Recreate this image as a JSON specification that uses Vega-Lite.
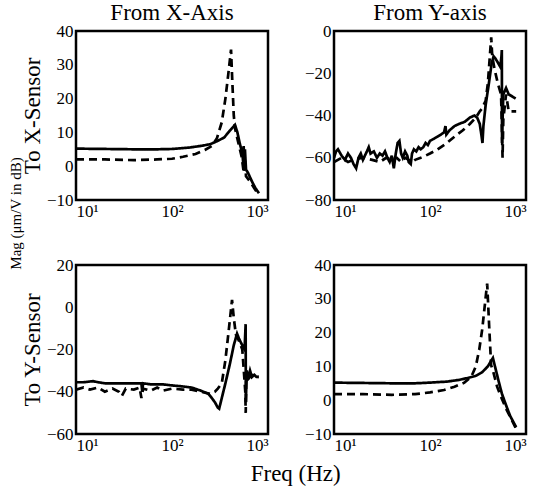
{
  "$schema": "https://vega.github.io/schema/vega-lite/v6.json",
  "padding": {"left": 9, "top": 0, "right": 5, "bottom": 0},
  "background": "white",
  "title": {"text": "Mag (μm/V in dB)", "orient": "left", "fontSize": 15, "font": "Liberation Serif", "fontWeight": "normal", "color": "black", "anchor": "middle", "offset": -4, "dx": 30},
  "datasets": {
    "p1": [
      {"f":10,"v":5.2,"s":"solid"},{"f":20,"v":5.1,"s":"solid"},{"f":40,"v":5,"s":"solid"},{"f":70,"v":5,"s":"solid"},{"f":100,"v":5.1,"s":"solid"},{"f":150,"v":5.5,"s":"solid"},{"f":200,"v":6,"s":"solid"},{"f":250,"v":6.5,"s":"solid"},{"f":300,"v":7.5,"s":"solid"},{"f":350,"v":8.5,"s":"solid"},{"f":400,"v":10.5,"s":"solid"},{"f":430,"v":11.5,"s":"solid"},{"f":453,"v":12.2,"s":"solid"},{"f":480,"v":10,"s":"solid"},{"f":510,"v":6.5,"s":"solid"},{"f":540,"v":4,"s":"solid"},{"f":552,"v":1,"s":"solid"},{"f":558,"v":6,"s":"solid"},{"f":565,"v":-1,"s":"solid"},{"f":575,"v":5,"s":"solid"},{"f":590,"v":-1,"s":"solid"},{"f":620,"v":-2,"s":"solid"},{"f":680,"v":-4.5,"s":"solid"},{"f":740,"v":-6.5,"s":"solid"},{"f":805,"v":-8,"s":"solid"},
      {"f":10,"v":2,"s":"dashed"},{"f":20,"v":2,"s":"dashed"},{"f":40,"v":1.8,"s":"dashed"},{"f":70,"v":2,"s":"dashed"},{"f":100,"v":2.2,"s":"dashed"},{"f":130,"v":2.8,"s":"dashed"},{"f":176,"v":3.6,"s":"dashed"},{"f":220,"v":4.8,"s":"dashed"},{"f":261,"v":6,"s":"dashed"},{"f":294,"v":8.3,"s":"dashed"},{"f":330,"v":13,"s":"dashed"},{"f":360,"v":20,"s":"dashed"},{"f":385,"v":27,"s":"dashed"},{"f":412,"v":34.5,"s":"dashed"},{"f":425,"v":25,"s":"dashed"},{"f":440,"v":15,"s":"dashed"},{"f":455,"v":11,"s":"dashed"},{"f":490,"v":7,"s":"dashed"},{"f":530,"v":3,"s":"dashed"},{"f":560,"v":-2,"s":"dashed"},{"f":570,"v":4,"s":"dashed"},{"f":590,"v":-3,"s":"dashed"},{"f":650,"v":-4.5,"s":"dashed"},{"f":720,"v":-6.5,"s":"dashed"},{"f":800,"v":-8.5,"s":"dashed"}
    ],
    "p2": [
      {"f":10,"v":-60,"s":"solid"},{"f":10.5,"v":-57,"s":"solid"},{"f":11,"v":-56,"s":"solid"},{"f":12,"v":-59,"s":"solid"},{"f":13,"v":-61,"s":"solid"},{"f":14,"v":-58,"s":"solid"},{"f":15,"v":-60,"s":"solid"},{"f":16,"v":-63,"s":"solid"},{"f":17,"v":-65,"s":"solid"},{"f":18,"v":-60,"s":"solid"},{"f":19,"v":-58,"s":"solid"},{"f":20,"v":-61,"s":"solid"},{"f":22,"v":-57,"s":"solid"},{"f":23,"v":-55,"s":"solid"},{"f":24,"v":-58,"s":"solid"},{"f":26,"v":-57,"s":"solid"},{"f":28,"v":-60,"s":"solid"},{"f":30,"v":-58,"s":"solid"},{"f":32,"v":-59,"s":"solid"},{"f":34,"v":-57,"s":"solid"},{"f":36,"v":-60,"s":"solid"},{"f":38,"v":-62,"s":"solid"},{"f":40,"v":-59,"s":"solid"},{"f":42,"v":-65,"s":"solid"},{"f":44,"v":-58,"s":"solid"},{"f":46,"v":-53,"s":"solid"},{"f":48,"v":-52,"s":"solid"},{"f":50,"v":-58,"s":"solid"},{"f":52,"v":-60,"s":"solid"},{"f":55,"v":-57,"s":"solid"},{"f":58,"v":-59,"s":"solid"},{"f":60,"v":-62,"s":"solid"},{"f":63,"v":-63,"s":"solid"},{"f":65,"v":-58,"s":"solid"},{"f":68,"v":-56,"s":"solid"},{"f":72,"v":-57,"s":"solid"},{"f":76,"v":-55,"s":"solid"},{"f":80,"v":-56,"s":"solid"},{"f":85,"v":-55,"s":"solid"},{"f":90,"v":-53,"s":"solid"},{"f":95,"v":-54,"s":"solid"},{"f":100,"v":-52,"s":"solid"},{"f":110,"v":-51,"s":"solid"},{"f":120,"v":-50,"s":"solid"},{"f":130,"v":-49,"s":"solid"},{"f":140,"v":-48,"s":"solid"},{"f":145,"v":-45,"s":"solid"},{"f":148,"v":-49,"s":"solid"},{"f":160,"v":-47,"s":"solid"},{"f":180,"v":-45,"s":"solid"},{"f":200,"v":-44,"s":"solid"},{"f":230,"v":-43,"s":"solid"},{"f":260,"v":-41,"s":"solid"},{"f":290,"v":-40,"s":"solid"},{"f":310,"v":-41,"s":"solid"},{"f":330,"v":-44,"s":"solid"},{"f":345,"v":-50,"s":"solid"},{"f":352,"v":-53,"s":"solid"},{"f":360,"v":-45,"s":"solid"},{"f":380,"v":-35,"s":"solid"},{"f":410,"v":-25,"s":"solid"},{"f":440,"v":-15,"s":"solid"},{"f":460,"v":-12,"s":"solid"},{"f":480,"v":-13,"s":"solid"},{"f":510,"v":-15,"s":"solid"},{"f":540,"v":-17,"s":"solid"},{"f":555,"v":-12,"s":"solid"},{"f":560,"v":-9,"s":"solid"},{"f":563,"v":-53,"s":"solid"},{"f":568,"v":-45,"s":"solid"},{"f":580,"v":-30,"s":"solid"},{"f":620,"v":-27,"s":"solid"},{"f":660,"v":-30,"s":"solid"},{"f":720,"v":-31,"s":"solid"},{"f":780,"v":-32,"s":"solid"},
      {"f":10,"v":-62,"s":"dashed"},{"f":12,"v":-60,"s":"dashed"},{"f":14,"v":-62,"s":"dashed"},{"f":16,"v":-61,"s":"dashed"},{"f":20,"v":-60,"s":"dashed"},{"f":25,"v":-61,"s":"dashed"},{"f":30,"v":-62,"s":"dashed"},{"f":35,"v":-60,"s":"dashed"},{"f":40,"v":-61,"s":"dashed"},{"f":45,"v":-60,"s":"dashed"},{"f":50,"v":-62,"s":"dashed"},{"f":55,"v":-60,"s":"dashed"},{"f":60,"v":-61,"s":"dashed"},{"f":65,"v":-62,"s":"dashed"},{"f":70,"v":-61,"s":"dashed"},{"f":80,"v":-60,"s":"dashed"},{"f":90,"v":-59,"s":"dashed"},{"f":100,"v":-58,"s":"dashed"},{"f":120,"v":-56,"s":"dashed"},{"f":150,"v":-53,"s":"dashed"},{"f":180,"v":-50,"s":"dashed"},{"f":220,"v":-47,"s":"dashed"},{"f":260,"v":-44,"s":"dashed"},{"f":300,"v":-41,"s":"dashed"},{"f":330,"v":-38,"s":"dashed"},{"f":345,"v":-37,"s":"dashed"},{"f":380,"v":-33,"s":"dashed"},{"f":400,"v":-25,"s":"dashed"},{"f":420,"v":-12,"s":"dashed"},{"f":434,"v":-3,"s":"dashed"},{"f":445,"v":-12,"s":"dashed"},{"f":470,"v":-18,"s":"dashed"},{"f":510,"v":-25,"s":"dashed"},{"f":550,"v":-30,"s":"dashed"},{"f":570,"v":-60,"s":"dashed"},{"f":580,"v":-42,"s":"dashed"},{"f":620,"v":-30,"s":"dashed"},{"f":660,"v":-38,"s":"dashed"},{"f":720,"v":-38,"s":"dashed"},{"f":790,"v":-38,"s":"dashed"}
    ],
    "p3": [
      {"f":10,"v":-35.5,"s":"solid"},{"f":12,"v":-35.5,"s":"solid"},{"f":15,"v":-35,"s":"solid"},{"f":17,"v":-35.5,"s":"solid"},{"f":20,"v":-36,"s":"solid"},{"f":30,"v":-36,"s":"solid"},{"f":40,"v":-36,"s":"solid"},{"f":48,"v":-36,"s":"solid"},{"f":49,"v":-40,"s":"solid"},{"f":50,"v":-36,"s":"solid"},{"f":60,"v":-36.5,"s":"solid"},{"f":80,"v":-36.5,"s":"solid"},{"f":100,"v":-37,"s":"solid"},{"f":130,"v":-37.5,"s":"solid"},{"f":160,"v":-38,"s":"solid"},{"f":200,"v":-39.5,"s":"solid"},{"f":240,"v":-41,"s":"solid"},{"f":260,"v":-43,"s":"solid"},{"f":280,"v":-45,"s":"solid"},{"f":300,"v":-47.5,"s":"solid"},{"f":310,"v":-48,"s":"solid"},{"f":330,"v":-43,"s":"solid"},{"f":360,"v":-36,"s":"solid"},{"f":400,"v":-27,"s":"solid"},{"f":440,"v":-18,"s":"solid"},{"f":476,"v":-12.5,"s":"solid"},{"f":500,"v":-15,"s":"solid"},{"f":540,"v":-18,"s":"solid"},{"f":570,"v":-20,"s":"solid"},{"f":585,"v":-8,"s":"solid"},{"f":588,"v":-45,"s":"solid"},{"f":600,"v":-30,"s":"solid"},{"f":620,"v":-34,"s":"solid"},{"f":650,"v":-30,"s":"solid"},{"f":680,"v":-33,"s":"solid"},{"f":720,"v":-32,"s":"solid"},{"f":760,"v":-33,"s":"solid"},{"f":800,"v":-33,"s":"solid"},
      {"f":10,"v":-39,"s":"dashed"},{"f":12,"v":-38,"s":"dashed"},{"f":14,"v":-39,"s":"dashed"},{"f":17,"v":-38,"s":"dashed"},{"f":20,"v":-40,"s":"dashed"},{"f":24,"v":-38.5,"s":"dashed"},{"f":28,"v":-40,"s":"dashed"},{"f":30,"v":-42,"s":"dashed"},{"f":33,"v":-38.5,"s":"dashed"},{"f":40,"v":-39,"s":"dashed"},{"f":46,"v":-38,"s":"dashed"},{"f":48,"v":-43,"s":"dashed"},{"f":50,"v":-38.5,"s":"dashed"},{"f":60,"v":-39.5,"s":"dashed"},{"f":70,"v":-38,"s":"dashed"},{"f":80,"v":-39.5,"s":"dashed"},{"f":100,"v":-38.5,"s":"dashed"},{"f":130,"v":-39,"s":"dashed"},{"f":160,"v":-39,"s":"dashed"},{"f":200,"v":-40,"s":"dashed"},{"f":250,"v":-41,"s":"dashed"},{"f":280,"v":-40,"s":"dashed"},{"f":300,"v":-38.5,"s":"dashed"},{"f":330,"v":-36,"s":"dashed"},{"f":360,"v":-25,"s":"dashed"},{"f":392,"v":-10,"s":"dashed"},{"f":422,"v":3.5,"s":"dashed"},{"f":440,"v":-5,"s":"dashed"},{"f":463,"v":-13,"s":"dashed"},{"f":500,"v":-16,"s":"dashed"},{"f":540,"v":-20,"s":"dashed"},{"f":580,"v":-40,"s":"dashed"},{"f":586,"v":-50,"s":"dashed"},{"f":595,"v":-30,"s":"dashed"},{"f":620,"v":-34,"s":"dashed"},{"f":680,"v":-32,"s":"dashed"},{"f":750,"v":-33,"s":"dashed"},{"f":800,"v":-33,"s":"dashed"}
    ],
    "p4": [
      {"f":10,"v":5.2,"s":"solid"},{"f":20,"v":5.1,"s":"solid"},{"f":40,"v":5,"s":"solid"},{"f":70,"v":5,"s":"solid"},{"f":100,"v":5.2,"s":"solid"},{"f":150,"v":5.5,"s":"solid"},{"f":200,"v":6,"s":"solid"},{"f":250,"v":6.6,"s":"solid"},{"f":300,"v":7.2,"s":"solid"},{"f":350,"v":8.3,"s":"solid"},{"f":400,"v":10,"s":"solid"},{"f":430,"v":11.5,"s":"solid"},{"f":452,"v":12.5,"s":"solid"},{"f":480,"v":9.5,"s":"solid"},{"f":520,"v":5.5,"s":"solid"},{"f":560,"v":2,"s":"solid"},{"f":620,"v":-1.5,"s":"solid"},{"f":680,"v":-4.5,"s":"solid"},{"f":740,"v":-6.5,"s":"solid"},{"f":790,"v":-8,"s":"solid"},
      {"f":10,"v":1.8,"s":"dashed"},{"f":20,"v":1.8,"s":"dashed"},{"f":40,"v":1.6,"s":"dashed"},{"f":70,"v":1.8,"s":"dashed"},{"f":100,"v":2.3,"s":"dashed"},{"f":140,"v":3,"s":"dashed"},{"f":180,"v":4,"s":"dashed"},{"f":228,"v":5.2,"s":"dashed"},{"f":269,"v":6.9,"s":"dashed"},{"f":300,"v":10,"s":"dashed"},{"f":326,"v":15,"s":"dashed"},{"f":350,"v":21,"s":"dashed"},{"f":367,"v":26.4,"s":"dashed"},{"f":385,"v":32,"s":"dashed"},{"f":394,"v":34.5,"s":"dashed"},{"f":404,"v":28,"s":"dashed"},{"f":414,"v":21.5,"s":"dashed"},{"f":433,"v":10.4,"s":"dashed"},{"f":460,"v":8,"s":"dashed"},{"f":500,"v":4,"s":"dashed"},{"f":550,"v":1,"s":"dashed"},{"f":620,"v":-2.5,"s":"dashed"},{"f":700,"v":-5.5,"s":"dashed"},{"f":790,"v":-8.5,"s":"dashed"}
    ]
  },
  "vconcat": [
    {
      "title": {"text": "Freq (Hz)", "orient": "bottom", "fontSize": 23, "font": "Liberation Serif", "fontWeight": "normal", "color": "black", "anchor": "middle", "offset": 9, "dx": 22},
      "spacing": 33,
      "vconcat": [
        {
          "spacing": 33,
          "hconcat": [
            {
              "data": {"name": "p1"},
              "width": 192, "height": 169,
              "title": {"text": "From X-Axis"},
              "mark": {"type": "line", "strokeWidth": 2.7, "color": "black", "clip": true},
              "encoding": {
                "x": {"field": "f", "type": "quantitative", "scale": {"type": "log", "domain": [10, 1000]}, "axis": {"values": [10, 100, 1000], "labelExpr": "datum.value == 10 ? '10¹' : datum.value == 100 ? '10²' : '10³'", "title": null}},
                "y": {"field": "v", "type": "quantitative", "scale": {"domain": [-10, 40], "nice": false, "zero": false}, "axis": {"values": [-10, 0, 10, 20, 30, 40], "title": "To X-Sensor"}},
                "strokeDash": {"field": "s", "type": "nominal", "scale": {"domain": ["solid", "dashed"], "range": [[1, 0], [8, 5]]}, "legend": null}
              }
            },
            {
              "data": {"name": "p2"},
              "width": 192, "height": 169,
              "title": {"text": "From Y-axis"},
              "mark": {"type": "line", "strokeWidth": 2.7, "color": "black", "clip": true},
              "encoding": {
                "x": {"field": "f", "type": "quantitative", "scale": {"type": "log", "domain": [10, 1000]}, "axis": {"values": [10, 100, 1000], "labelExpr": "datum.value == 10 ? '10¹' : datum.value == 100 ? '10²' : '10³'", "title": null}},
                "y": {"field": "v", "type": "quantitative", "scale": {"domain": [-80, 0], "nice": false, "zero": false}, "axis": {"values": [-80, -60, -40, -20, 0], "title": null}},
                "strokeDash": {"field": "s", "type": "nominal", "scale": {"domain": ["solid", "dashed"], "range": [[1, 0], [8, 5]]}, "legend": null}
              }
            }
          ]
        },
        {
          "spacing": 33,
          "hconcat": [
            {
              "data": {"name": "p3"},
              "width": 192, "height": 169,
              "mark": {"type": "line", "strokeWidth": 2.7, "color": "black", "clip": true},
              "encoding": {
                "x": {"field": "f", "type": "quantitative", "scale": {"type": "log", "domain": [10, 1000]}, "axis": {"values": [10, 100, 1000], "labelExpr": "datum.value == 10 ? '10¹' : datum.value == 100 ? '10²' : '10³'", "title": null}},
                "y": {"field": "v", "type": "quantitative", "scale": {"domain": [-60, 20], "nice": false, "zero": false}, "axis": {"values": [-60, -40, -20, 0, 20], "title": "To Y-Sensor"}},
                "strokeDash": {"field": "s", "type": "nominal", "scale": {"domain": ["solid", "dashed"], "range": [[1, 0], [8, 5]]}, "legend": null}
              }
            },
            {
              "data": {"name": "p4"},
              "width": 192, "height": 169,
              "mark": {"type": "line", "strokeWidth": 2.7, "color": "black", "clip": true},
              "encoding": {
                "x": {"field": "f", "type": "quantitative", "scale": {"type": "log", "domain": [10, 1000]}, "axis": {"values": [10, 100, 1000], "labelExpr": "datum.value == 10 ? '10¹' : datum.value == 100 ? '10²' : '10³'", "title": null}},
                "y": {"field": "v", "type": "quantitative", "scale": {"domain": [-10, 40], "nice": false, "zero": false}, "axis": {"values": [-10, 0, 10, 20, 30, 40], "title": null}},
                "strokeDash": {"field": "s", "type": "nominal", "scale": {"domain": ["solid", "dashed"], "range": [[1, 0], [8, 5]]}, "legend": null}
              }
            }
          ]
        }
      ]
    }
  ],
  "config": {
    "font": "Liberation Serif",
    "view": {"stroke": "black", "strokeWidth": 2.5},
    "title": {"fontSize": 23, "font": "Liberation Serif", "fontWeight": "normal", "color": "black", "offset": -3},
    "axis": {"domain": false, "ticks": false, "grid": false, "labelFont": "Liberation Serif", "labelFontSize": 17, "labelColor": "black", "labelPadding": 3, "titleFont": "Liberation Serif", "titleFontSize": 23, "titleFontWeight": "normal", "titleColor": "black", "titlePadding": 2}
  }
}
